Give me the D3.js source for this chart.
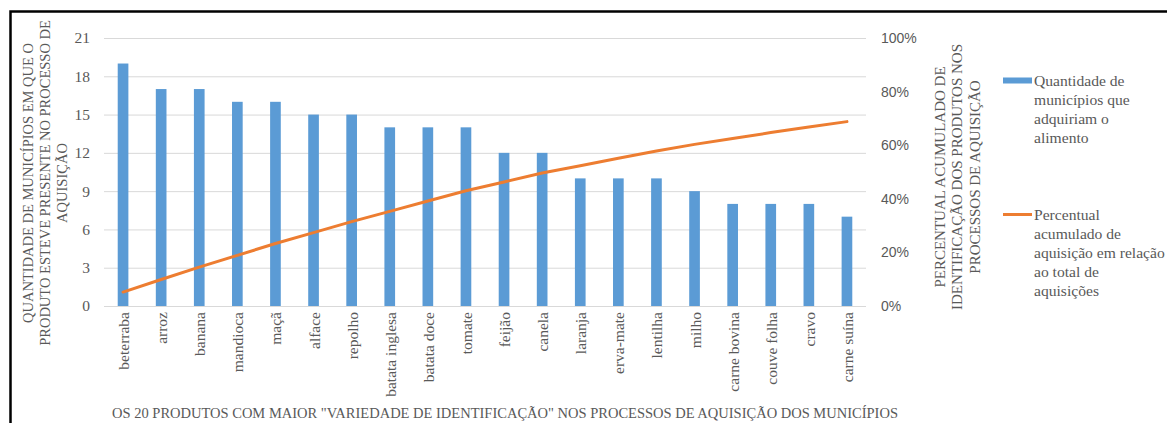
<!DOCTYPE html>
<html>
<head>
<meta charset="utf-8">
<script src="https://cdn.jsdelivr.net/npm/d3@7"></script>
<style>
  body { margin: 0; background: #fff; }
  svg { display: block; }
  .serif { font-family: 'Liberation Serif', 'Times New Roman', serif; }
  .sans { font-family: 'Liberation Sans', Arial, sans-serif; }
</style>
</head>
<body>
<div id="chart"></div>
<script>
// data
var produtos = ['beterraba', 'arroz', 'banana', 'mandioca', 'maçã', 'alface', 'repolho', 'batata inglesa',
  'batata doce', 'tomate', 'feijão', 'canela', 'laranja', 'erva-mate', 'lentilha', 'milho',
  'carne bovina', 'couve folha', 'cravo', 'carne suína']
var quantidade = [19, 17, 17, 16, 16, 15, 15, 14, 14, 14, 12, 12, 10, 10, 10, 9, 8, 8, 8, 7]
var percentual = [5.2, 9.9, 14.5, 18.9, 23.3, 27.4, 31.5, 35.3, 39.2, 43.0,
  46.3, 49.6, 52.3, 55.1, 57.8, 60.3, 62.5, 64.7, 66.8, 68.8]
var leftTicks = [0, 3, 6, 9, 12, 15, 18, 21]
var rightTicks = [0, 20, 40, 60, 80, 100]

var leftTitle = ['QUANTIDADE DE MUNICÍPIOS EM QUE O', 'PRODUTO ESTEVE PRESENTE NO PROCESSO DE', 'AQUISIÇÃO']
var rightTitle = ['PERCENTUAL ACUMULADO DE', 'IDENTIFICAÇÃO DOS PRODUTOS NOS', 'PROCESSOS DE AQUISIÇÃO']
var xTitle = 'OS 20 PRODUTOS COM MAIOR "VARIEDADE DE IDENTIFICAÇÃO" NOS PROCESSOS DE AQUISIÇÃO DOS MUNICÍPIOS'
var legendBar = ['Quantidade de', 'municípios que', 'adquiriam o', 'alimento']
var legendLine = ['Percentual', 'acumulado de', 'aquisição em relação', 'ao total de', 'aquisições']

var W = 1167, H = 423
var gray = '#595959'

var svg = d3.select('#chart').append('svg').attr('width', W).attr('height', H)

// frame
svg.append('path').attr('d', 'M10.5,' + H + 'V11.5H' + W)
  .attr('fill', 'none').attr('stroke', '#000').attr('stroke-width', 2.5)

var x = d3.scaleBand().domain(produtos).range([104, 866]).paddingInner(0.72).paddingOuter(0.36)
var y = d3.scaleLinear().domain([0, 21]).range([306, 38])
var y2 = d3.scaleLinear().domain([0, 100]).range([306, 38])

// gridlines
svg.append('g').selectAll('line').data(leftTicks).join('line')
  .attr('x1', 104).attr('x2', 866)
  .attr('y1', d => y(d) + 0.5).attr('y2', d => y(d) + 0.5)
  .attr('stroke', '#d9d9d9').attr('stroke-width', 1)

// left axis
var leftAxis = svg.append('g').attr('transform', 'translate(90,0)')
  .call(d3.axisLeft(y).tickValues(leftTicks).tickSize(0).tickPadding(0))
leftAxis.select('.domain').remove()
leftAxis.attr('font-family', null)
leftAxis.selectAll('text').attr('class', 'serif').attr('font-size', 15.5).attr('fill', gray)

// right axis
var rightAxis = svg.append('g').attr('transform', 'translate(881,0)')
  .call(d3.axisRight(y2).tickValues(rightTicks).tickSize(0).tickPadding(0).tickFormat(d => d + '%'))
rightAxis.select('.domain').remove()
rightAxis.attr('font-family', null)
rightAxis.selectAll('text').attr('class', 'sans').attr('font-size', 14).attr('fill', gray)

// bars
svg.append('g').selectAll('rect').data(quantidade).join('rect')
  .attr('x', (d, i) => x(produtos[i]))
  .attr('width', x.bandwidth())
  .attr('y', d => y(d))
  .attr('height', d => y(0) - y(d))
  .attr('fill', '#5b9bd5')

// cumulative line
var line = d3.line()
  .x((d, i) => x(produtos[i]) + x.bandwidth() / 2)
  .y(d => y2(d))
svg.append('path').datum(percentual)
  .attr('d', line)
  .attr('fill', 'none').attr('stroke', '#ed7d31').attr('stroke-width', 3).attr('stroke-linecap', 'round')

// category labels
svg.append('g').selectAll('text').data(produtos).join('text')
  .attr('class', 'serif')
  .attr('transform', d => 'translate(' + (x(d) + x.bandwidth() / 2 + 6) + ',312) rotate(-90)')
  .attr('text-anchor', 'end')
  .attr('font-size', 15.5).attr('fill', gray)
  .text(d => d)

// axis titles
function rotatedTitle(lines, cx, cy, size, gap) {
  var g = svg.append('g').attr('transform', 'translate(' + cx + ',' + cy + ') rotate(-90)')
  g.selectAll('text').data(lines).join('text')
    .attr('class', 'serif')
    .attr('x', 0).attr('y', (d, i) => (i - (lines.length - 1) / 2) * gap)
    .attr('dy', '0.35em')
    .attr('text-anchor', 'middle')
    .attr('font-size', size).attr('fill', gray)
    .text(d => d)
}
rotatedTitle(leftTitle, 45, 183, 14.5, 17)
rotatedTitle(rightTitle, 957, 177, 15, 17.5)

svg.append('text').attr('class', 'serif').attr('x', 505).attr('y', 418)
  .attr('text-anchor', 'middle')
  .attr('font-size', 14.5).attr('fill', gray)
  .text(xTitle)

// legend
function legendEntry(lines, top, kind) {
  if (kind == 'bar') {
    svg.append('rect').attr('x', 1003).attr('y', top - 3).attr('width', 29).attr('height', 6).attr('fill', '#5b9bd5')
  } else {
    svg.append('line').attr('x1', 1003).attr('x2', 1032).attr('y1', top).attr('y2', top)
      .attr('stroke', '#ed7d31').attr('stroke-width', 3)
  }
  svg.append('g').selectAll('text').data(lines).join('text')
    .attr('class', 'serif')
    .attr('x', 1034).attr('y', (d, i) => top + i * 19)
    .attr('dy', '0.35em')
    .attr('font-size', 15.6).attr('fill', gray)
    .text(d => d)
}
legendEntry(legendBar, 80.5, 'bar')
legendEntry(legendLine, 214.5, 'line')
</script>
</body>
</html>
